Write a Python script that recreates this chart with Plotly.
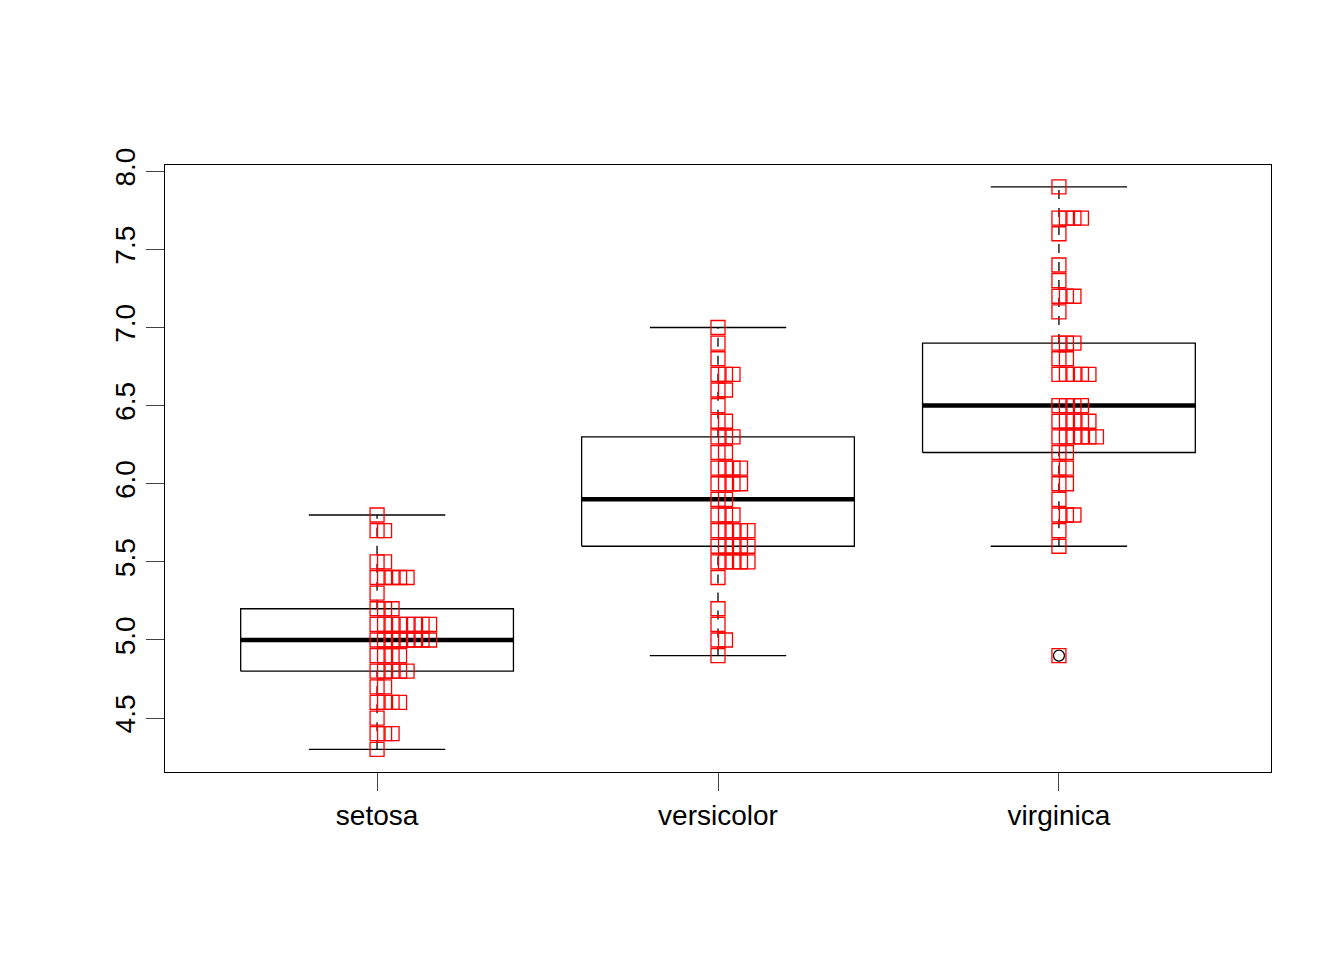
import plotly.graph_objects as go

species = ["setosa", "versicolor", "virginica"]

setosa = [5.1, 4.9, 4.7, 4.6, 5.0, 5.4, 4.6, 5.0, 4.4, 4.9, 5.4, 4.8, 4.8, 4.3, 5.8, 5.7, 5.4, 5.1, 5.7, 5.1,
          5.4, 5.1, 4.6, 5.1, 4.8, 5.0, 5.0, 5.2, 5.2, 4.7, 4.8, 5.4, 5.2, 5.5, 4.9, 5.0, 5.5, 4.9, 4.4, 5.1,
          5.0, 4.5, 4.4, 5.0, 5.1, 4.8, 5.1, 4.6, 5.3, 5.0]
versicolor = [7.0, 6.4, 6.9, 5.5, 6.5, 5.7, 6.3, 4.9, 6.6, 5.2, 5.0, 5.9, 6.0, 6.1, 5.6, 6.7, 5.6, 5.8, 6.2, 5.6,
              5.9, 6.1, 6.3, 6.1, 6.4, 6.6, 6.8, 6.7, 6.0, 5.7, 5.5, 5.5, 5.8, 6.0, 5.4, 6.0, 6.7, 6.3, 5.6, 5.5,
              5.5, 6.1, 5.8, 5.0, 5.6, 5.7, 5.7, 6.2, 5.1, 5.7]
virginica = [6.3, 5.8, 7.1, 6.3, 6.5, 7.6, 4.9, 7.3, 6.7, 7.2, 6.5, 6.4, 6.8, 5.7, 5.8, 6.4, 6.5, 7.7, 7.7, 6.0,
             6.9, 5.6, 7.7, 6.3, 6.7, 7.2, 6.2, 6.1, 6.4, 7.2, 7.4, 7.9, 6.4, 6.3, 6.1, 7.7, 6.3, 6.4, 6.0, 6.9,
             6.7, 6.9, 5.8, 6.8, 6.7, 6.7, 6.3, 6.5, 6.2, 5.9]
values = [setosa, versicolor, virginica]

# box stats: lower whisker, q1, median, q3, upper whisker
w_lo = [4.3, 4.9, 5.6]
q1 = [4.8, 5.6, 6.2]
med = [5.0, 5.9, 6.5]
q3 = [5.2, 6.3, 6.9]
w_hi = [5.8, 7.0, 7.9]
outliers = [[], [], [4.9]]

step = 0.022
hw = 0.4
cw = 0.2

fig = go.Figure()
for i in range(3):
    x = i + 1
    # whiskers dashed
    for a, b in [(w_lo[i], q1[i]), (q3[i], w_hi[i])]:
        fig.add_trace(go.Scatter(x=[x, x], y=[a, b], mode="lines",
                                 line=dict(color="black", width=1.3, dash="dash")))
    for yv in [w_lo[i], w_hi[i]]:
        fig.add_trace(go.Scatter(x=[x - cw, x + cw], y=[yv, yv], mode="lines",
                                 line=dict(color="black", width=1.3)))
    fig.add_trace(go.Scatter(x=[x - hw, x + hw, x + hw, x - hw, x - hw],
                             y=[q1[i], q1[i], q3[i], q3[i], q1[i]], mode="lines",
                             line=dict(color="black", width=1.3)))
    fig.add_trace(go.Scatter(x=[x - hw, x + hw], y=[med[i], med[i]], mode="lines",
                             line=dict(color="black", width=4.5)))
    if outliers[i]:
        fig.add_trace(go.Scatter(x=[x] * len(outliers[i]), y=outliers[i], mode="markers",
                                 marker=dict(symbol="circle-open", size=11, color="black",
                                             line=dict(width=1.3))))
    # stacked strip points
    counts = {}
    xs = []
    for v in values[i]:
        k = counts.get(v, 0)
        counts[v] = k + 1
        xs.append(x + k * step)
    fig.add_trace(go.Scatter(x=xs, y=values[i], mode="markers",
                             marker=dict(symbol="square-open", size=14, color="red",
                                         line=dict(width=1.3, color="red"))))

fig.update_layout(
    width=1344, height=960, showlegend=False,
    plot_bgcolor="white", paper_bgcolor="white",
    margin=dict(l=157, r=81, t=157, b=196),
    font=dict(family="Liberation Sans, Arial", size=28, color="black"),
)
fig.update_xaxes(range=[0.378, 3.622], tickvals=[1, 2, 3], ticktext=species,
                 ticks="outside", ticklen=18, tickwidth=1.3, showgrid=False, zeroline=False,
                 showline=True, linecolor="black", linewidth=1.3, mirror=True)
fig.update_yaxes(range=[4.155, 8.04], tickvals=[4.5, 5.0, 5.5, 6.0, 6.5, 7.0, 7.5, 8.0],
                 ticktext=["4.5", "5.0", "5.5", "6.0", "6.5", "7.0", "7.5", "8.0"],
                 tickangle=-90, ticks="outside", ticklen=18, tickwidth=1.3,
                 showgrid=False, zeroline=False,
                 showline=True, linecolor="black", linewidth=1.3, mirror=True)

fig.write_html("out.html")
